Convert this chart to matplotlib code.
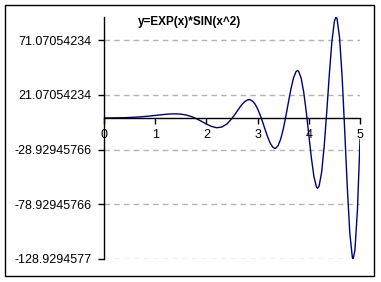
import matplotlib
matplotlib.use("Agg")
import matplotlib.pyplot as plt
from matplotlib.patches import Rectangle

# values: y = exp(x)*sin(x^2)
x_vals = [0.0, 0.1, 0.2, 0.3, 0.4, 0.5, 0.6, 0.7, 0.8, 0.9,
          1.0, 1.1, 1.2, 1.3, 1.4, 1.5, 1.6, 1.7, 1.8, 1.9,
          2.0, 2.1, 2.2, 2.3, 2.4, 2.5, 2.55, 2.6, 2.65, 2.7,
          2.75, 2.8, 2.833, 2.85, 2.9, 2.95, 3.0, 3.05, 3.1, 3.15,
          3.2, 3.25, 3.3, 3.338, 3.35, 3.4, 3.45, 3.5, 3.55, 3.6,
          3.65, 3.7, 3.75, 3.777, 3.8, 3.85, 3.9, 3.95, 4.0, 4.05,
          4.1, 4.15, 4.171, 4.2, 4.25, 4.3, 4.35, 4.4, 4.45, 4.5,
          4.531, 4.55, 4.6, 4.65, 4.7, 4.75, 4.8, 4.85, 4.865, 4.9,
          4.95, 5.0]
y_vals = [0.0, 0.011, 0.049, 0.121, 0.238, 0.408, 0.642, 0.948, 1.329, 1.781,
          2.287, 2.811, 3.292, 3.643, 3.752, 3.487, 2.721, 1.362, -0.594, -3.022,
          -5.592, -7.812, -8.953, -8.367, -5.519, -0.404, 2.786, 6.179, 9.536, 12.575,
          14.983, 16.443, 16.747, 16.669, 15.436, 12.631, 8.278, 2.575, -4.088, -11.141,
          -17.857, -23.409, -26.962, -27.86, -27.772, -25.317, -19.410, -10.303, 1.258, 14.037,
          26.398, 36.470, 42.403, 43.32, 42.667, 36.382, 23.596, 5.467, -15.719, -36.736,
          -53.832, -63.334, -64.32, -62.382, -49.654, -25.932, 5.647, 39.794, 69.797, 88.714,
          92.31, 90.891, 73.490, 37.688, -10.851, -62.504, -105.33, -127.64, -128.93, -121.03,
          -83.199, -19.643]

y_ticks = [-128.9294577, -78.92945766, -28.92945766, 21.07054234, 71.07054234]
y_labels = ['-128.9294577', '-78.92945766', '-28.92945766', '21.07054234', '71.07054234']
x_ticks = [0, 1, 2, 3, 4, 5]

plt.rcParams['font.family'] = ['Liberation Sans', 'DejaVu Sans']

fig = plt.figure(figsize=(3.81, 2.82), dpi=100)
ax = fig.add_axes([0.273, 0.0805, 0.672, 0.8592])

ax.plot(x_vals, y_vals, color='#000080', lw=1)

ax.set_xlim(0, 5)
ax.set_ylim(-129.3, 92.31)
ax.set_yticks(y_ticks)
ax.set_yticklabels(y_labels)
ax.set_xticks(x_ticks)

ax.spines['top'].set_visible(False)
ax.spines['right'].set_visible(False)
ax.spines['bottom'].set_position(('data', 0))
ax.spines['left'].set_linewidth(1)
ax.spines['bottom'].set_linewidth(1)
ax.tick_params(axis='both', direction='out', length=4, width=1, labelsize=9)
ax.tick_params(axis='y', pad=5)
ax.tick_params(axis='x', pad=4)

ax.yaxis.grid(True, color='#b4b4b4', linestyle=(0, (4, 3)), lw=1)
ax.set_axisbelow(True)

fig.text(0.497, 0.922, 'y=EXP(x)*SIN(x^2)', ha='center', va='center',
         fontsize=8.5, fontweight='bold')

fig.patches.append(Rectangle((5/381, 6/282), 369/381, 271/282, fill=False,
                             edgecolor='black', lw=1, transform=fig.transFigure))

plt.savefig('out.png', dpi=100)
